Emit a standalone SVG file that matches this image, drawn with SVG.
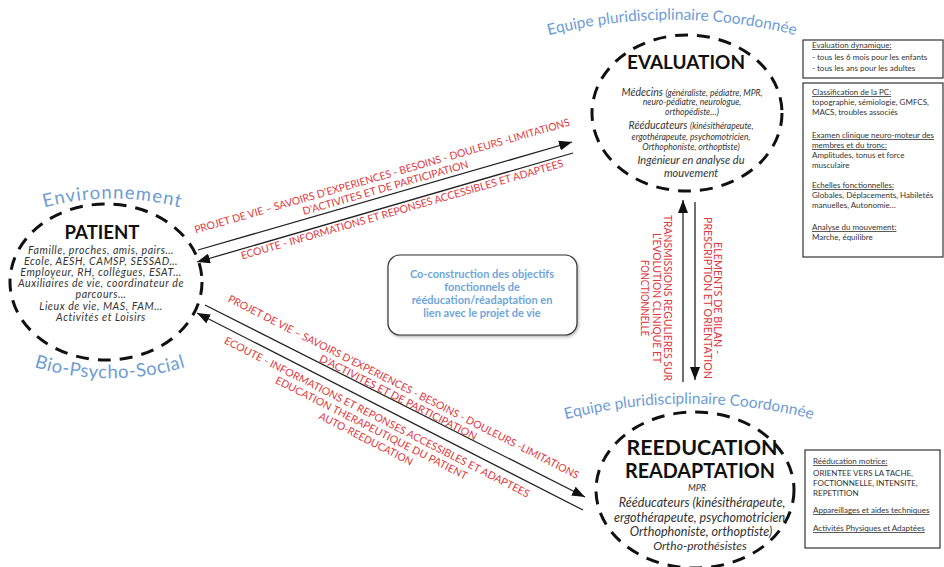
<svg xmlns="http://www.w3.org/2000/svg" width="944" height="567" viewBox="0 0 944 567">
  <defs>
    <style>
      .ring { fill: none; stroke: #111; stroke-width: 3; stroke-dasharray: 13 9; }
      .head { font-family: Lato, "Liberation Sans", sans-serif; font-weight: bold; fill: #111; text-anchor: middle; }
      .body { font-family: Lato, "Liberation Sans", sans-serif; font-style: italic; fill: #333; text-anchor: middle; }
      .arc { font-family: Lato, "Liberation Sans", sans-serif; fill: #6d9cd3; }
      .red { font-family: Lato, "Liberation Sans", sans-serif; font-size: 10.5px; fill: #dd3840; text-anchor: middle; }
      .link { stroke: #222; stroke-width: 1.3; fill: none; marker-end: url(#tip); }
      .box { fill: #fff; stroke: #333; stroke-width: 1.2; }
      .note { font-family: Lato, "Liberation Sans", sans-serif; font-size: 8px; fill: #333; }
      .ul { text-decoration: underline; }
      .co { font-family: Lato, "Liberation Sans", sans-serif; font-weight: bold; font-size: 11px; fill: #6fa6d9; text-anchor: middle; }
      .pt { font-size: 10.6px; letter-spacing: 0.55px; }
    </style>
    <marker id="tip" markerUnits="userSpaceOnUse" markerWidth="13" markerHeight="10" viewBox="0 0 13 10" refX="13" refY="5" orient="auto">
      <path d="M0,0 L13,5 L0,10 z" fill="#111"/>
    </marker>
    <filter id="soft" x="-10%" y="-10%" width="130%" height="140%">
      <feDropShadow dx="1" dy="1.5" stdDeviation="1.5" flood-color="#000" flood-opacity="0.3"/>
    </filter>
    <path id="arcEnv" d="M30,212 A260,260 0 0,1 195,212"/>
    <path id="arcBio" d="M25,364 A260,260 0 0,0 195,364"/>
    <path id="arcTeamTop" d="M538,38 A500,500 0 0,1 806,38"/>
    <path id="arcTeamBottom" d="M555,422 A500,500 0 0,1 823,422"/>
  </defs>

  <rect width="944" height="567" fill="#fff"/>

  <!-- curved context captions -->
  <g id="captions" class="arc">
    <text font-size="18.5" letter-spacing="1.1"><textPath href="#arcEnv" startOffset="50%" text-anchor="middle">Environnement</textPath></text>
    <text font-size="18.5" letter-spacing="0.5"><textPath href="#arcBio" startOffset="50%" text-anchor="middle">Bio-Psycho-Social</textPath></text>
    <text font-size="15.5"><textPath href="#arcTeamTop" startOffset="50%" text-anchor="middle">Equipe pluridisciplinaire Coordonnée</textPath></text>
    <text font-size="15.5"><textPath href="#arcTeamBottom" startOffset="50%" text-anchor="middle">Equipe pluridisciplinaire Coordonnée</textPath></text>
  </g>

  <!-- connectors -->
  <g id="connectors">
    <line class="link" x1="198" y1="250" x2="572" y2="142"/>
    <line class="link" x1="573" y1="153" x2="197" y2="262"/>
    <line class="link" x1="205" y1="305" x2="585" y2="497"/>
    <line class="link" x1="583" y1="510" x2="197" y2="313"/>
    <line class="link" x1="683" y1="382" x2="683" y2="200"/>
    <line class="link" x1="695" y1="202" x2="695" y2="380"/>
  </g>

  <!-- connector labels -->
  <g id="labels-patient-evaluation" transform="translate(382,176) rotate(-16.1)">
    <text class="red" y="3.6" textLength="390" lengthAdjust="spacingAndGlyphs">PROJET DE VIE – SAVOIRS D’EXPERIENCES - BESOINS - DOULEURS -LIMITATIONS</text>
    <text class="red" y="15.9" textLength="172" lengthAdjust="spacingAndGlyphs">D’ACTIVITES ET DE PARTICIPATION</text>
    <text class="red" x="10" y="41.4" textLength="335" lengthAdjust="spacingAndGlyphs">ECOUTE - INFORMATIONS ET REPONSES ACCESSIBLES ET ADAPTEES</text>
  </g>
  <g id="labels-patient-reeducation" transform="translate(403,388) rotate(27)">
    <text class="red" y="2.4" textLength="392" lengthAdjust="spacingAndGlyphs">PROJET DE VIE – SAVOIRS D’EXPERIENCES - BESOINS - DOULEURS -LIMITATIONS</text>
    <text class="red" y="14.2" textLength="175" lengthAdjust="spacingAndGlyphs">D’ACTIVITES ET DE PARTICIPATION</text>
    <text class="red" x="-10" y="41.4" textLength="341" lengthAdjust="spacingAndGlyphs">ECOUTE - INFORMATIONS ET REPONSES ACCESSIBLES ET ADAPTEES</text>
    <text class="red" x="-10" y="53.6" textLength="214" lengthAdjust="spacingAndGlyphs">EDUCATION THERAPEUTIQUE DU PATIENT</text>
    <text class="red" x="-10" y="65.8" textLength="104" lengthAdjust="spacingAndGlyphs">AUTO-REEDUCATION</text>
  </g>
  <g id="labels-down" transform="translate(718,298) rotate(90)">
    <text class="red" y="3.6" textLength="112" lengthAdjust="spacingAndGlyphs">ELEMENTS DE BILAN -</text>
    <text class="red" y="14.1" textLength="162" lengthAdjust="spacingAndGlyphs">PRESCRIPTION ET ORIENTATION</text>
  </g>
  <g id="labels-up" transform="translate(668,298) rotate(90)">
    <text class="red" y="3.6" textLength="166" lengthAdjust="spacingAndGlyphs">TRANSMISSIONS REGULIERES SUR</text>
    <text class="red" y="15.1" textLength="130" lengthAdjust="spacingAndGlyphs">L’EVOLUTION CLINIQUE ET</text>
    <text class="red" y="26.6" textLength="76" lengthAdjust="spacingAndGlyphs">FONCTIONNELLE</text>
  </g>

  <!-- evaluation -->
  <g id="node-evaluation">
    <ellipse class="ring" cx="687" cy="113" rx="95" ry="78"/>
    <text class="head" x="686" y="69" font-size="19" textLength="118" lengthAdjust="spacingAndGlyphs">EVALUATION</text>
    <text class="body" x="692" y="95.5" font-size="10.5">Médecins <tspan font-size="8.6">(généraliste, pédiatre, MPR,</tspan></text>
    <text class="body" x="692" y="105" font-size="8.6">neuro-pédiatre, neurologue,</text>
    <text class="body" x="692" y="114.5" font-size="8.6">orthopédiste…)</text>
    <text class="body" x="691" y="128.5" font-size="10.5">Rééducateurs <tspan font-size="8.6">(kinésithérapeute,</tspan></text>
    <text class="body" x="691" y="140" font-size="8.6">ergothérapeute, psychomotricien,</text>
    <text class="body" x="691" y="150" font-size="8.6">Orthophoniste, orthoptiste)</text>
    <text class="body" x="691" y="163.5" font-size="11">Ingénieur en analyse du</text>
    <text class="body" x="691" y="176.5" font-size="11">mouvement</text>
  </g>

  <!-- patient -->
  <g id="node-patient">
    <ellipse class="ring" cx="106" cy="282" rx="96" ry="78"/>
    <text class="head" x="102" y="239" font-size="19" textLength="75" lengthAdjust="spacingAndGlyphs">PATIENT</text>
    <text class="body pt" x="101" y="253.5">Famille, proches, amis, pairs…</text>
    <text class="body pt" x="101" y="264.7">Ecole, AESH, CAMSP, SESSAD…</text>
    <text class="body pt" x="101" y="275.9">Employeur, RH, collègues, ESAT…</text>
    <text class="body pt" x="101" y="287.1">Auxiliaires de vie, coordinateur de</text>
    <text class="body pt" x="101" y="298.3">parcours…</text>
    <text class="body pt" x="101" y="309.5">Lieux de vie, MAS, FAM…</text>
    <text class="body pt" x="101" y="320.7">Activités et Loisirs</text>
  </g>

  <!-- reeducation / readaptation -->
  <g id="node-reeducation">
    <ellipse class="ring" cx="695" cy="490" rx="99" ry="78"/>
    <text class="head" x="702" y="455" font-size="20" textLength="151" lengthAdjust="spacingAndGlyphs">REEDUCATION</text>
    <text class="head" x="700" y="478" font-size="20" textLength="150" lengthAdjust="spacingAndGlyphs">READAPTATION</text>
    <text class="body" x="697" y="491" font-size="9">MPR</text>
    <text class="body" x="702" y="507" font-size="12.6">Rééducateurs (kinésithérapeute,</text>
    <text class="body" x="701" y="522" font-size="12.6">ergothérapeute, psychomotricien,</text>
    <text class="body" x="701" y="536" font-size="12.6">Orthophoniste, orthoptiste)</text>
    <text class="body" x="700" y="550" font-size="12">Ortho-prothésistes</text>
  </g>

  <!-- shared goals -->
  <g id="node-coconstruction">
    <rect class="box" x="388" y="255" width="189" height="80" rx="12" filter="url(#soft)"/>
    <text class="co" x="482" y="278">Co-construction des objectifs</text>
    <text class="co" x="482" y="291">fonctionnels de</text>
    <text class="co" x="482" y="304">rééducation/réadaptation en</text>
    <text class="co" x="482" y="317">lien avec le projet de vie</text>
  </g>

  <!-- side notes -->
  <g id="node-note-dynamic">
    <rect class="box" x="803" y="40" width="140" height="38"/>
    <text class="note ul" x="812" y="48">Evaluation dynamique:</text>
    <text class="note" x="812" y="59.5">- tous les 6 mois pour les enfants</text>
    <text class="note" x="812" y="70.5">- tous les ans pour les adultes</text>
  </g>
  <g id="node-note-evaluation">
    <rect class="box" x="803" y="83" width="140" height="174" stroke-width="1.5"/>
    <text class="note ul" x="812" y="95">Classification de la PC:</text>
    <text class="note" x="812" y="105">topographie, sémiologie, GMFCS,</text>
    <text class="note" x="812" y="115">MACS, troubles associés</text>
    <text class="note ul" x="812" y="138">Examen clinique neuro-moteur des</text>
    <text class="note ul" x="812" y="148">membres et du tronc:</text>
    <text class="note" x="812" y="158">Amplitudes, tonus et force</text>
    <text class="note" x="812" y="168">musculaire</text>
    <text class="note ul" x="812" y="188">Echelles fonctionnelles:</text>
    <text class="note" x="812" y="198">Globales, Déplacements, Habiletés</text>
    <text class="note" x="812" y="208">manuelles, Autonomie…</text>
    <text class="note ul" x="812" y="230">Analyse du mouvement:</text>
    <text class="note" x="812" y="240">Marche, équilibre</text>
  </g>
  <g id="node-note-reeducation">
    <rect class="box" x="805" y="450" width="135" height="98" stroke-width="1.5"/>
    <text class="note ul" x="813" y="464">Rééducation motrice:</text>
    <text class="note" x="813" y="476">ORIENTEE VERS LA TACHE,</text>
    <text class="note" x="813" y="486">FOCTIONNELLE, INTENSITE,</text>
    <text class="note" x="813" y="496">REPETITION</text>
    <text class="note ul" x="813" y="513">Appareillages et aides techniques</text>
    <text class="note ul" x="813" y="531">Activités Physiques et Adaptées</text>
  </g>
</svg>
